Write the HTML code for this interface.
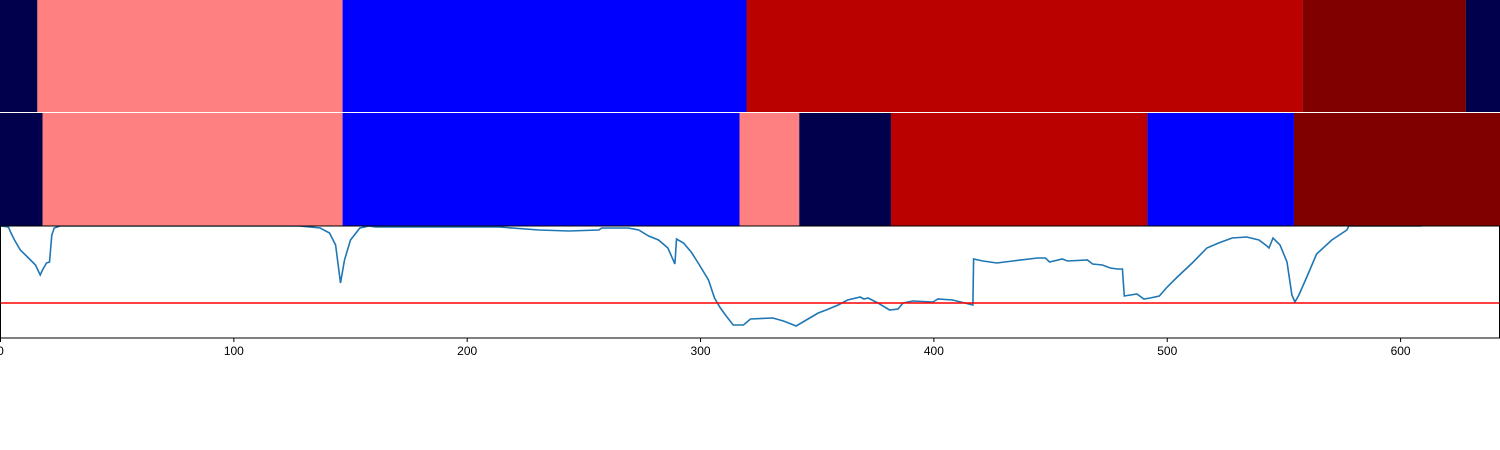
<!DOCTYPE html>
<html><head><meta charset="utf-8"><style>
html,body{margin:0;padding:0;background:#fff;}
svg{display:block;font-family:"Liberation Sans",sans-serif;}
</style></head><body>
<svg id="chart" width="1500" height="450"></svg>
<script>
const xTicks=[0,100,200,300,400,500,600];
const row1Starts=[0,15.8,146.6,319.7,558,628];
const row1Ends=[15.8,146.6,319.7,558,628,642.6];
const row1Cats=[0,1,2,3,4,0];
const row2Starts=[0,18,146.6,316.7,342.3,381.6,491.5,554.3];
const row2Ends=[18,146.6,316.7,342.3,381.6,491.5,554.3,642.6];
const row2Cats=[0,1,2,1,0,3,2,4];
const catColors=["#00004c","#ff8080","#0000ff","#bb0000","#800000"];
const lineX=[0,3.4,4.3,6,8.5,12,15,17,18,19.7,21,22,23,25.6,128,137,141,143.6,145.7,147.4,150,154,158,160.7,213.7,230.8,243.6,256.4,257.7,269,273.5,277.8,282,286,289,289.7,292.7,296,299,303.4,306,308.5,311,314,318.4,321.4,331,335.5,341,345.3,350.4,353.8,359,363,368.4,370,371.8,376,381,384.6,386.8,391,399.6,401.7,408,416.7,417,421,427,433.8,444.4,447.8,449.6,455,457.3,465.8,468,472.2,475.6,478.6,480.8,481.6,487,490,492.7,496.6,500,504.3,510.7,517,522,527.8,534,539.3,542.7,543.6,545.3,548.3,551.3,553.4,554.7,556.4,559.8,564,570.5,577,577.8,609];
const lineY=[112,111,106,98,88,80,73,63,68,75,76,103,110,112,112,110,105,93,55,78,98,110,112,111,111,108,107,108,110,110,108,102,98,90,74,99,95,86,75,58,40,30,22,13,13,19,20,17,12,18,25,28,33,38,41,39,40,35,28,29,35,37,36,39,38,33,79,77,75,77,80,80,76,79,77,78,74,73,70,69,69,42,44,39,40,42,51,61,75,90,95,100,101,98,92,90,100,93,76,43,36,43,61,84,98,108,112,112];
const threshold=[35];
const X0=0.5, X1=1500, xmin=0, xmax=642.6;
const sx=v=>X0+(v-xmin)/(xmax-xmin)*(X1-X0);
const LT=226, LB=338, ymin=0, ymax=112;
const sy=v=>LB-(v-ymin)/(ymax-ymin)*(LB-LT);
const NS="http://www.w3.org/2000/svg";
const svg=document.getElementById('chart');
function mk(t,a){const e=document.createElementNS(NS,t);for(const k in a)e.setAttribute(k,a[k]);svg.appendChild(e);return e;}
function row(starts,ends,cats,y,h,nm){
  for(let i=0;i<starts.length;i++){
    const x=i===0?0:sx(starts[i]);
    const e=mk('rect',{x:x,y:y,width:Math.min(1500,sx(ends[i]))-x,height:h,fill:catColors[cats[i]]});
    
    
  }
}
row(row1Starts,row1Ends,row1Cats,0,112,'row1');
row(row2Starts,row2Ends,row2Cats,113,113,'row2');
const bg=mk('rect',{x:0,y:LT,width:1500,height:LB-LT,fill:'#fff'});


const cpath=mk('clipPath',{id:'clp'});
const cp=document.createElementNS(NS,'rect');cp.setAttribute('x',0);cp.setAttribute('y',LT);cp.setAttribute('width',1500);cp.setAttribute('height',LB-LT);cpath.appendChild(cp);
let d='';for(let i=0;i<lineX.length;i++)d+=(i?'L':'M')+sx(lineX[i]).toFixed(1)+','+sy(lineY[i]).toFixed(1);
const ln=mk('path',{d:d,fill:'none',stroke:'#1f77b4','stroke-width':1.6,'clip-path':'url(#clp)'});


const th=mk('line',{x1:0,x2:1500,y1:sy(threshold[0]),y2:sy(threshold[0]),stroke:'#ff0000','stroke-width':1.6});


const fr=mk('rect',{x:0.5,y:LT,width:1499,height:LB-LT,fill:'none',stroke:'#000','stroke-width':1});


xTicks.forEach(t=>{
  const x=sx(t);
  const tk=mk('line',{x1:x,x2:x,y1:LB,y2:LB+4,stroke:'#000','stroke-width':1});
  
  
  const tx=mk('text',{x:x,y:LB+17,'text-anchor':'middle','font-size':12,fill:'#000'});
  tx.textContent=t;
  
  
});
</script>
</body></html>
